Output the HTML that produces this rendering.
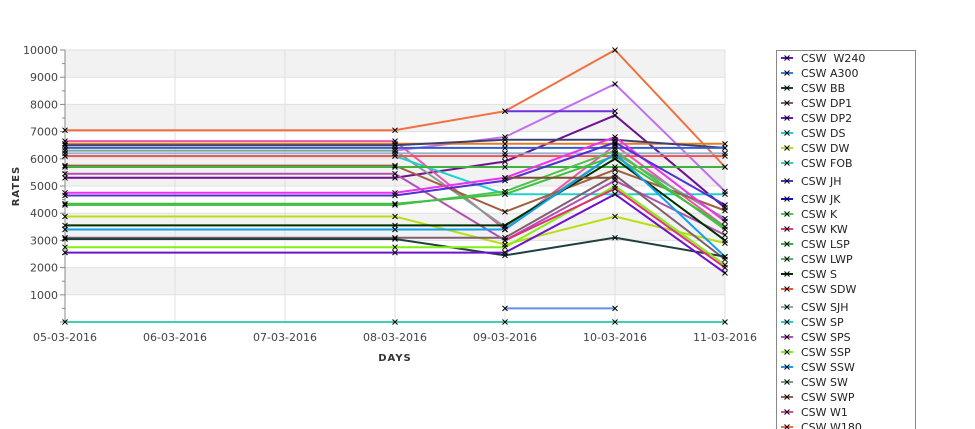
<!DOCTYPE html>
<html><head><meta charset="utf-8"><style>
html,body{margin:0;padding:0;background:#fff;width:975px;height:429px;overflow:hidden}
svg{display:block;font-family:"DejaVu Sans","Liberation Sans",sans-serif}
</style></head><body>
<svg id="s" width="975" height="429" xmlns="http://www.w3.org/2000/svg"></svg>
<script>
const s=document.getElementById('s');let h='';
const Y=v=>322-v*0.0272, X=[65,395,505,615,725];
for(let k=0;k<5;k++){const t=10000-k*2000;h+=`<rect x="65" y="${Y(t)}" width="660" height="27.2" fill="#f2f2f2"/>`;}
for(let v=1000;v<=10000;v+=1000)h+=`<line x1="65" x2="725" y1="${Y(v)}" y2="${Y(v)}" stroke="#e0e0e0"/>`;
for(let d=0;d<7;d++){const x=65+d*110;h+=`<line x1="${x}" x2="${x}" y1="50" y2="322" stroke="#e0e0e0"/>`;}
h+=`<line x1="65" x2="65" y1="50" y2="322" stroke="#888"/><line x1="65" x2="725" y1="322" y2="322" stroke="#888"/>`;
for(let v=0;v<=10000;v+=500){const y=Y(v);h+=`<line x1="${v%1000?62:60}" x2="65" y1="${y}" y2="${y}" stroke="#888"/>`;
 if(v%1000==0&&v>0)h+=`<text x="58" y="${y+4}" font-size="11" fill="#444" text-anchor="end">${v}</text>`;}
const dates=['05','06','07','08','09','10','11'];
dates.forEach((d,i)=>{h+=`<text x="${65+i*110}" y="341" font-size="11" fill="#444" text-anchor="middle">${d}-03-2016</text>`});
h+=`<text x="395" y="361" font-size="10" font-weight="bold" fill="#333" text-anchor="middle" letter-spacing="1">DAYS</text>`;
h+=`<text transform="translate(19,186) rotate(-90)" font-size="10" font-weight="bold" fill="#333" text-anchor="middle" letter-spacing="1">RATES</text>`;
const S=[
['#f07040',[7050,7050,7750,10000,5700]],['#c070f0',[null,6300,6800,8750,4800]],['#7030e0',[null,null,7750,7750,null]],
['#701090',[5300,5300,5900,7600,4200]],['#ee55aa',[6650,6650,3400,6500,3500]],['#e08020',[6550,6550,6550,6550,6550]],
['#404070',[6500,6500,6700,6700,6400]],['#3060d0',[6400,6400,6400,6400,6400]],['#80a090',[6300,6300,3500,6200,3800]],
['#90b0d0',[6200,6200,6200,6200,6200]],['#20d0d0',[6100,6100,4700,4700,4700]],['#f05050',[6100,6100,6100,6100,6100]],
['#a06040',[5750,5750,4050,5600,4100]],['#40b040',[5700,5700,5700,5700,5700]],['#b050b0',[5450,5450,3000,5200,3200]],
['#f030f0',[4750,4750,5300,6800,3700]],['#5030d0',[4650,4650,5200,6600,4300]],['#50c050',[4300,4300,4800,6300,3400]],
['#40c040',[4350,4350,4700,6100,3500]],['#b8e010',[3880,3880,2850,3880,2900]],['#003000',[3550,3550,3550,6000,3000]],
['#10a0f0',[3400,3400,3400,6200,2400]],['#806070',[3100,3100,3100,5400,2300]],['#204040',[3050,3050,2450,3100,2400]],
['#80f010',[2750,2750,2750,5000,2100]],['#7010d0',[2550,2550,2550,4700,1800]],['#e03080',[null,null,3000,4900,2000]],
['#6090f0',[null,null,500,500,null]],['#40d0b0',[0,0,0,0,0]],['#805030',[null,null,5300,5300,null]]];
S.forEach(([c,v])=>{let p=[];v.forEach((a,i)=>{if(a!==null)p.push(X[i]+','+Y(a).toFixed(1))});
 h+=`<polyline points="${p.join(' ')}" fill="none" stroke="${c}" stroke-width="2"/>`;});
S.forEach(([c,v])=>{v.forEach((a,i)=>{if(a!==null){const x=X[i],y=Y(a);h+=`<path d="M${x-2.5},${y-2.5}L${x+2.5},${y+2.5}M${x-2.5},${y+2.5}L${x+2.5},${y-2.5}" stroke="#000" stroke-width="1"/>`}})});
h+=`<rect x="776.5" y="50.5" width="139" height="379" fill="#fff" stroke="#888"/>`;
const L=[['CSW\u00a0 W240','#7010d0'],['CSW A300','#3080e0'],['CSW BB','#204040'],['CSW DP1','#806070'],['CSW DP2','#7010d0'],['CSW DS','#20d0d0'],['CSW DW','#b8e010'],['CSW FOB','#30d0c0'],['CSW JH','#5030d0'],['CSW JK','#1010e0'],['CSW K','#40d040'],['CSW KW','#f03080'],['CSW LSP','#30b040'],['CSW LWP','#60b060'],['CSW S','#003000'],['CSW SDW','#f05040'],['CSW SJH','#80b0a0'],['CSW SP','#20d0d0'],['CSW SPS','#b050b0'],['CSW SSP','#80f010'],['CSW SSW','#10a0f0'],['CSW SW','#70a080'],['CSW SWP','#a06040'],['CSW W1','#e040b0'],['CSW W180','#f07040']];
const ly=[58,73,88,103,118,133,148,163,181,199,214,229,244,259,274,289,307,322,337,352,367,382,397,412,427];
L.forEach(([t,c],i)=>{const y=ly[i];h+=`<line x1="781" x2="793" y1="${y}" y2="${y}" stroke="${c}" stroke-width="2"/><path d="M784.5,${y-2.5}L789.5,${y+2.5}M784.5,${y+2.5}L789.5,${y-2.5}" stroke="#000"/><text x="801" y="${y+4}" font-size="11" fill="#222">${t}</text>`});
s.innerHTML=h;
</script>
</body></html>
